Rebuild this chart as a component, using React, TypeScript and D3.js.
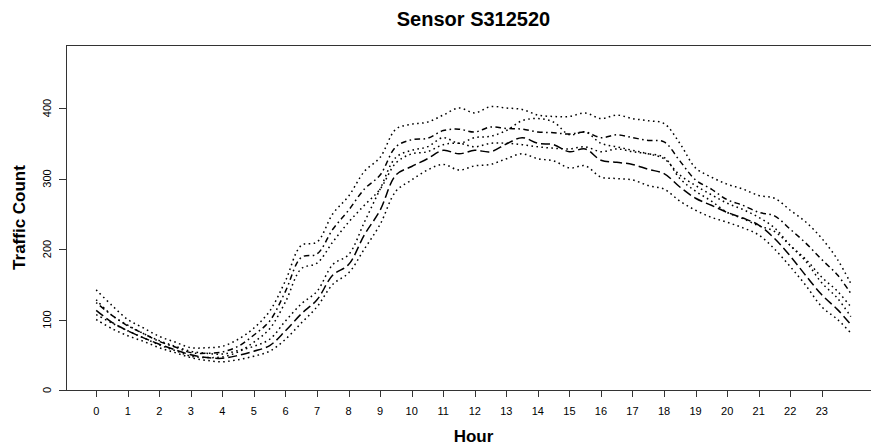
import React from "react";
import * as d3 from "d3";

// Hourly profile for sensor S312520: two day-type groups, each with a mean curve and an upper/lower band.
const HOURS: number[] = [...d3.range(0, 24, 0.5), 23.92];

const A_UPPER = [142, 120, 100, 88, 76, 68, 60, 60, 62, 72, 88, 112, 155, 205, 210, 250, 275, 310, 330, 370, 377, 380, 390, 400, 393, 402, 400, 398, 390, 388, 388, 393, 385, 390, 385, 382, 378, 350, 315, 302, 292, 285, 276, 272, 255, 238, 215, 185, 151];
const A_MEAN = [124, 106, 91, 80, 69, 61, 53, 52, 54, 62, 78, 98, 140, 188, 193, 228, 255, 285, 305, 345, 355, 357, 368, 370, 366, 373, 371, 370, 366, 365, 363, 366, 358, 362, 358, 354, 352, 325, 298, 285, 270, 262, 252, 247, 228, 208, 185, 163, 137];
const A_LOWER = [107, 95, 84, 74, 64, 56, 48, 46, 47, 54, 68, 87, 125, 172, 180, 210, 238, 262, 285, 322, 335, 338, 348, 350, 345, 350, 350, 348, 345, 343, 342, 345, 338, 342, 338, 335, 330, 300, 282, 268, 252, 243, 233, 225, 205, 185, 160, 140, 118];

const B_UPPER = [128, 106, 92, 80, 70, 62, 55, 52, 51, 56, 62, 72, 98, 122, 140, 178, 192, 238, 285, 330, 340, 345, 358, 350, 358, 360, 368, 382, 385, 380, 362, 366, 350, 345, 340, 335, 328, 305, 290, 277, 265, 256, 245, 230, 205, 182, 152, 130, 104];
const B_MEAN = [113, 96, 84, 74, 65, 57, 50, 46, 45, 49, 55, 63, 84, 108, 128, 163, 178, 220, 255, 305, 317, 328, 340, 335, 340, 338, 349, 358, 350, 348, 338, 342, 326, 323, 320, 313, 307, 288, 272, 262, 252, 244, 234, 215, 190, 162, 135, 114, 93];
const B_LOWER = [100, 87, 77, 69, 60, 53, 46, 42, 40, 43, 48, 55, 72, 95, 118, 150, 166, 200, 235, 282, 298, 312, 320, 312, 318, 320, 328, 335, 328, 325, 315, 318, 302, 300, 298, 290, 285, 268, 255, 245, 238, 230, 220, 200, 175, 148, 118, 100, 81];

const X_TICKS = d3.range(0, 24);
const Y_TICKS = [0, 100, 200, 300, 400];

const TITLE = "Sensor S312520";
const X_LABEL = "Hour";
const Y_LABEL = "Traffic Count";

const W = 871;
const H = 448;
const FONT = "'Liberation Sans', Arial, Helvetica, sans-serif";

const DOTTED = "1.6 3.4";
const DOTDASH = "1.6 3.4 5.6 3.4";
const LONGDASH = "9 4";

const SERIES = [
  { values: A_UPPER, dash: DOTTED },
  { values: A_MEAN, dash: DOTDASH },
  { values: A_LOWER, dash: DOTTED },
  { values: B_UPPER, dash: DOTTED },
  { values: B_MEAN, dash: LONGDASH },
  { values: B_LOWER, dash: DOTTED },
];

export default function App() {
  const plot = { left: 66, right: 881, top: 45, bottom: 390 };
  const x = d3.scaleLinear().domain([-0.957, 24.877]).range([plot.left, plot.right]);
  const y = d3.scaleLinear().domain([0, 489.4]).range([plot.bottom, plot.top]);

  const line = (vals: number[]) =>
    d3
      .line<number>()
      .x((_, i) => x(HOURS[i]))
      .y((d) => y(d))
      .curve(d3.curveCatmullRom.alpha(0.5))(vals) as string;

  const axisColor = "#333";
  const tickLen = 7;

  return (
    <div style={{ position: "fixed", left: 0, top: 0, width: W, height: H, background: "#fff" }}>
      <svg width={W} height={H} style={{ display: "block" }} fontFamily={FONT}>
        <rect x={0} y={0} width={W} height={H} fill="#fff" />
        <defs>
          <clipPath id="plot-area">
            <rect x={plot.left} y={plot.top} width={plot.right - plot.left} height={plot.bottom - plot.top} />
          </clipPath>
        </defs>

        {/* series */}
        <g clipPath="url(#plot-area)">
          {SERIES.map((s, i) => (
            <path
              key={i}
              d={line(s.values)}
              fill="none"
              stroke="#000"
              strokeWidth={1.5}
              strokeDasharray={s.dash}
            />
          ))}
        </g>

        {/* frame */}
        <rect
          x={plot.left + 0.5}
          y={plot.top + 0.5}
          width={plot.right - plot.left}
          height={plot.bottom - plot.top}
          fill="none"
          stroke={axisColor}
          strokeWidth={1}
        />

        {/* x axis */}
        <g>
          <line x1={x(0)} x2={x(23)} y1={plot.bottom + 0.5} y2={plot.bottom + 0.5} stroke={axisColor} />
          {X_TICKS.map((t) => (
            <g key={t}>
              <line
                x1={Math.round(x(t)) + 0.5}
                x2={Math.round(x(t)) + 0.5}
                y1={plot.bottom}
                y2={plot.bottom + tickLen}
                stroke={axisColor}
              />
              <text x={x(t)} y={415} textAnchor="middle" fontSize={11} fill="#000">
                {t}
              </text>
            </g>
          ))}
        </g>

        {/* y axis */}
        <g>
          {Y_TICKS.map((t) => (
            <g key={t}>
              <line
                x1={plot.left - tickLen}
                x2={plot.left}
                y1={Math.round(y(t)) + 0.5}
                y2={Math.round(y(t)) + 0.5}
                stroke={axisColor}
              />
              <text
                transform={`translate(51,${y(t)}) rotate(-90)`}
                textAnchor="middle"
                fontSize={11}
                fill="#000"
              >
                {t}
              </text>
            </g>
          ))}
        </g>

        {/* titles */}
        <text x={(plot.left + plot.right) / 2} y={26} textAnchor="middle" fontSize={20} fontWeight="bold" fill="#000">
          {TITLE}
        </text>
        <text x={(plot.left + plot.right) / 2} y={442} textAnchor="middle" fontSize={17} fontWeight="bold" fill="#000">
          {X_LABEL}
        </text>
        <text
          transform={`translate(25,${(plot.top + plot.bottom) / 2}) rotate(-90)`}
          textAnchor="middle"
          fontSize={17}
          fontWeight="bold"
          fill="#000"
        >
          {Y_LABEL}
        </text>
      </svg>
    </div>
  );
}
